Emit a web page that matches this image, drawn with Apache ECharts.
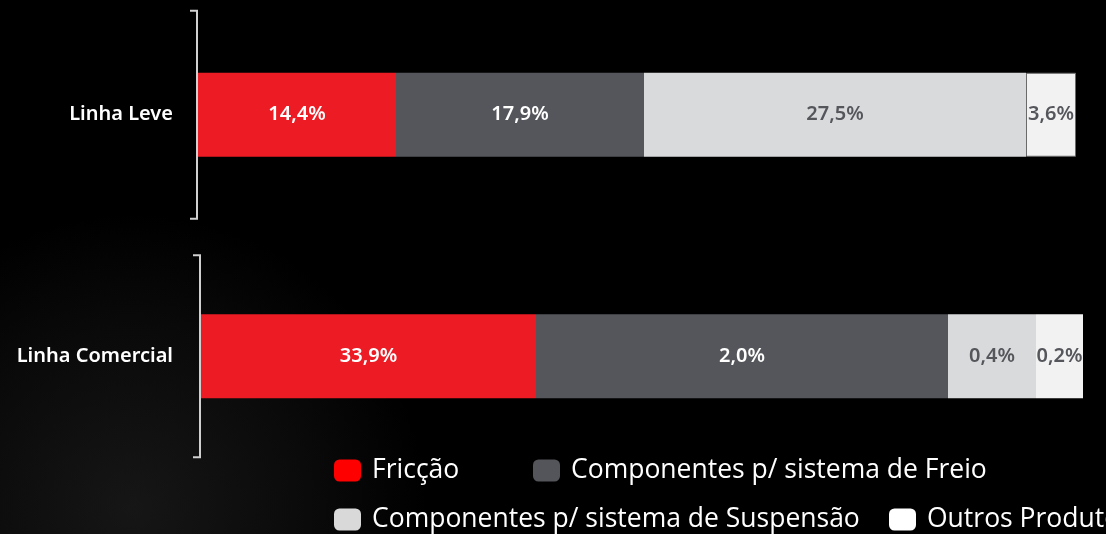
<!DOCTYPE html>
<html>
<head>
<meta charset="utf-8">
<script src="https://cdn.jsdelivr.net/npm/echarts@6/dist/echarts.min.js"></script>
<style>
  html, body { margin: 0; padding: 0; background: #000; }
  #chart { width: 1106px; height: 534px; }
</style>
</head>
<body>
<div id="chart"></div>
<script>
// categorias (de cima para baixo)
var categorias = ['Linha Leve', 'Linha Comercial'];
// comprimento de cada segmento (a barra nao e proporcional aos rotulos)
var recuo = [0, 3];
var segFriccao = [198, 335];
var segFreio = [248, 412];
var segSuspensao = [382, 88];
var segOutros = [50, 47];
// rotulos exibidos em cada segmento
var lblFriccao = ['14,4%', '33,9%'];
var lblFreio = ['17,9%', '2,0%'];
var lblSuspensao = ['27,5%', '0,4%'];
var lblOutros = ['3,6%', '0,2%'];
var nomes = ['Fricção', 'Componentes p/ sistema de Freio', 'Componentes p/ sistema de Suspensão', 'Outros Produtos'];

var chart = echarts.init(document.getElementById('chart'));

function rotulo(lista, cor) {
    return {
        show: true,
        position: 'inside',
        color: cor,
        fontFamily: 'Noto Sans',
        fontWeight: 600,
        fontSize: 20,
        formatter: function (p) { return lista[p.dataIndex]; }
    };
}

function legenda(nome, cor, left, top) {
    return {
        data: [{ name: nome, itemStyle: { color: cor } }],
        left: left,
        top: top,
        padding: 0,
        icon: 'roundRect',
        itemWidth: 27,
        itemHeight: 22,
        itemGap: 0,
        selectedMode: false,
        textStyle: { color: '#fff', fontFamily: 'Open Sans', fontSize: 26.5, padding: [0, 0, 0, 6] }
    };
}

var option = {
    backgroundColor: {
        type: 'radial', x: 0.12, y: 0.95, r: 0.55,
        colorStops: [{ offset: 0, color: '#161616' }, { offset: 0.6, color: '#0a0a0a' }, { offset: 1, color: '#000' }]
    },
    animation: false,
    grid: { left: 198, right: 0, top: -6, height: 483, outerBoundsMode: 'none', containLabel: false },
    xAxis: { type: 'value', min: 0, max: 908, show: false },
    yAxis: {
        type: 'category',
        inverse: true,
        data: categorias,
        axisLine: { show: false },
        axisTick: { show: false },
        axisLabel: { color: '#fff', fontFamily: 'Noto Sans', fontWeight: 600, fontSize: 20, margin: 25 }
    },
    legend: [
        legenda(nomes[0], '#ff0000', 334, 457),
        legenda(nomes[1], '#54555a', 533, 457),
        legenda(nomes[2], '#d9d9d9', 334, 506),
        legenda(nomes[3], '#ffffff', 889, 506)
    ],
    series: [
        { name: 'recuo', type: 'bar', stack: 't', barWidth: 84, data: recuo, itemStyle: { color: 'transparent' }, silent: true },
        { name: nomes[0], type: 'bar', stack: 't', data: segFriccao, itemStyle: { color: '#ed1c24' }, label: rotulo(lblFriccao, '#fff') },
        { name: nomes[1], type: 'bar', stack: 't', data: segFreio, itemStyle: { color: '#55565b' }, label: rotulo(lblFreio, '#fff') },
        { name: nomes[2], type: 'bar', stack: 't', data: segSuspensao, itemStyle: { color: '#d9dadc' }, label: rotulo(lblSuspensao, '#55565b') },
        {
            name: nomes[3], type: 'bar', stack: 't',
            data: [
                { value: segOutros[0], itemStyle: { borderColor: '#6a6a6a', borderWidth: 1 } },
                segOutros[1]
            ],
            itemStyle: { color: '#f2f2f2' },
            label: rotulo(lblOutros, '#55565b')
        }
    ]
};
chart.setOption(option);

// colchetes ao lado de cada categoria
var meiaAltura = [104, 101];
var colchetes = categorias.map(function (c, i) {
    var yc = chart.convertToPixel({ yAxisIndex: 0 }, c);
    var x = chart.convertToPixel({ xAxisIndex: 0 }, recuo[i]) - 1;
    var meia = meiaAltura[i];
    return {
        type: 'polyline',
        shape: { points: [[x - 7, yc - meia], [x, yc - meia], [x, yc + meia], [x - 7, yc + meia]] },
        style: { stroke: '#d0d0d0', lineWidth: 2, fill: null }
    };
});
chart.setOption({ graphic: colchetes });
</script>
</body>
</html>
